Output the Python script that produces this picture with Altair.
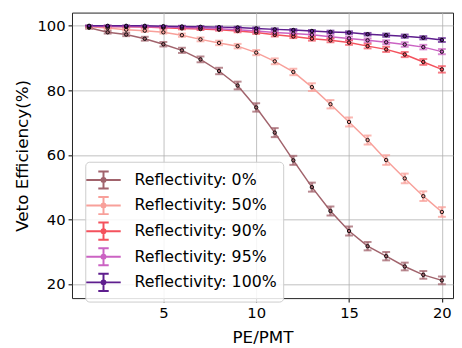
import altair as alt
import pandas as pd

pe = list(range(1, 21))
series_names = ["Reflectivity: 0%", "Reflectivity: 50%", "Reflectivity: 90%",
                "Reflectivity: 95%", "Reflectivity: 100%"]
colors = ["#a1636c", "#f8a09a", "#f4525d", "#cb63c3", "#5e1e8e"]

eff_0 = [99.4, 98.0, 97.3, 96.0, 94.3, 92.4, 89.6, 86.0, 81.5, 74.7,
         66.9, 58.3, 50.0, 42.6, 36.4, 31.7, 28.6, 25.4, 22.8, 21.1]
err_0 = [0.3, 0.4, 0.5, 0.6, 0.7, 0.8, 0.9, 1.0, 1.2, 1.3,
         1.4, 1.4, 1.4, 1.4, 1.4, 1.3, 1.3, 1.2, 1.2, 1.2]
eff_50 = [99.7, 99.3, 98.8, 98.5, 98.0, 97.1, 95.8, 94.7, 93.7, 91.7,
          89.0, 85.7, 81.0, 75.7, 70.2, 64.6, 58.4, 52.7, 47.2, 42.3]
err_50 = [0.2, 0.3, 0.3, 0.4, 0.4, 0.5, 0.6, 0.7, 0.7, 0.8,
          0.9, 1.0, 1.2, 1.3, 1.4, 1.4, 1.5, 1.5, 1.5, 1.5]
eff_90 = [99.9, 99.8, 99.7, 99.6, 99.4, 99.2, 99.0, 98.8, 98.4, 97.9,
          97.2, 96.7, 96.0, 95.5, 94.8, 93.7, 92.7, 91.1, 88.8, 86.5]
err_90 = [0.1, 0.2, 0.2, 0.2, 0.3, 0.3, 0.3, 0.3, 0.4, 0.4,
          0.5, 0.5, 0.6, 0.6, 0.7, 0.7, 0.8, 0.8, 0.9, 1.0]
eff_95 = [99.9, 99.8, 99.8, 99.7, 99.6, 99.5, 99.3, 99.1, 98.8, 98.4,
          97.9, 97.6, 97.2, 96.6, 96.1, 95.5, 94.9, 94.2, 93.4, 92.0]
err_95 = [0.1, 0.1, 0.2, 0.2, 0.2, 0.2, 0.3, 0.3, 0.3, 0.4,
          0.4, 0.4, 0.5, 0.5, 0.6, 0.6, 0.6, 0.7, 0.7, 0.8]
eff_100 = [100.0, 100.0, 100.0, 100.0, 99.9, 99.8, 99.7, 99.6, 99.5, 99.2,
           98.9, 98.7, 98.4, 98.1, 97.9, 97.4, 97.1, 96.8, 96.3, 95.6]
err_100 = [0.1, 0.1, 0.1, 0.1, 0.1, 0.2, 0.2, 0.2, 0.2, 0.3,
           0.3, 0.3, 0.3, 0.4, 0.4, 0.4, 0.5, 0.5, 0.5, 0.6]

effs = [eff_0, eff_50, eff_90, eff_95, eff_100]
errs = [err_0, err_50, err_90, err_95, err_100]

rows = []
for name, ev, er in zip(series_names, effs, errs):
    for x, v, e in zip(pe, ev, er):
        rows.append({"x": x, "y": v, "lo": v - e, "hi": v + e, "series": name})
df = pd.DataFrame(rows)

font = "DejaVu Sans"
xs = alt.Scale(domain=[0.08, 20.6], nice=False, zero=False)
ys = alt.Scale(domain=[15.6, 104.1], nice=False, zero=False)
cscale = alt.Scale(domain=series_names, range=colors)

# symbol size 497 -> unit radius ~11.15 px; path drawn wider than the unit box
legend_path = ("M-1.57,0H1.57M0,-0.78V0.78M-0.475,-0.78H0.475M-0.475,0.78H0.475"
               "M0.18,0A0.18,0.18,0,1,1,-0.18,0A0.18,0.18,0,1,1,0.18,0Z")

X = alt.X("x:Q", scale=xs, title="PE/PMT",
          axis=alt.Axis(values=[5, 10, 15, 20], titlePadding=9, labelPadding=4))
Y = alt.Y("y:Q", scale=ys, title="Veto Efficiency(%)",
          axis=alt.Axis(values=[20, 40, 60, 80, 100], titlePadding=6))

base = alt.Chart(df)

line = base.mark_line(strokeWidth=1.5).encode(
    x=X, y=Y,
    color=alt.Color("series:N", scale=cscale, sort=series_names,
                    legend=alt.Legend(
                        title=None, orient="none", legendX=13.5, legendY=151.5,
                        padding=6, fillColor="rgba(255,255,255,0.85)",
                        strokeColor="#cccccc", cornerRadius=4,
                        labelFont=font, labelFontSize=16, labelColor="black",
                        symbolType=legend_path, symbolSize=497,
                        symbolStrokeWidth=2,
                        labelOffset=19, rowPadding=-3.5)),
)

cnoleg = alt.Color("series:N", scale=cscale, legend=None)

bars = base.mark_rule(strokeWidth=2.5, opacity=0.75).encode(
    x="x:Q", y="lo:Q", y2="hi:Q", color=cnoleg)
cap_lo = base.mark_tick(orient="horizontal", size=8, thickness=2, opacity=0.75).encode(
    x="x:Q", y="lo:Q", color=cnoleg)
cap_hi = base.mark_tick(orient="horizontal", size=8, thickness=2, opacity=0.75).encode(
    x="x:Q", y="hi:Q", color=cnoleg)
pts = base.mark_point(shape="circle", filled=True, size=12, stroke="black",
                      strokeWidth=0.9, opacity=1).encode(
    x="x:Q", y="y:Q", color=cnoleg)

chart = alt.layer(line, bars, cap_lo, cap_hi, pts).properties(
    width=387, height=290,
    padding={"left": 65, "top": 2, "right": 1, "bottom": 48},
    autosize=alt.AutoSizeParams(type="none"),
).configure_view(
    stroke="#222222", strokeWidth=1
).configure_axis(
    labelFont=font, labelFontSize=15, labelColor="black",
    titleFont=font, titleFontSize=17, titleFontWeight="normal", titleColor="black",
    tickColor="black", tickSize=4, tickWidth=1, labelPadding=3,
    domain=False, grid=True, gridColor="#b0b0b0", gridWidth=0.8,
)

chart.save("out.html", embed_options={"renderer": "svg", "actions": False})
